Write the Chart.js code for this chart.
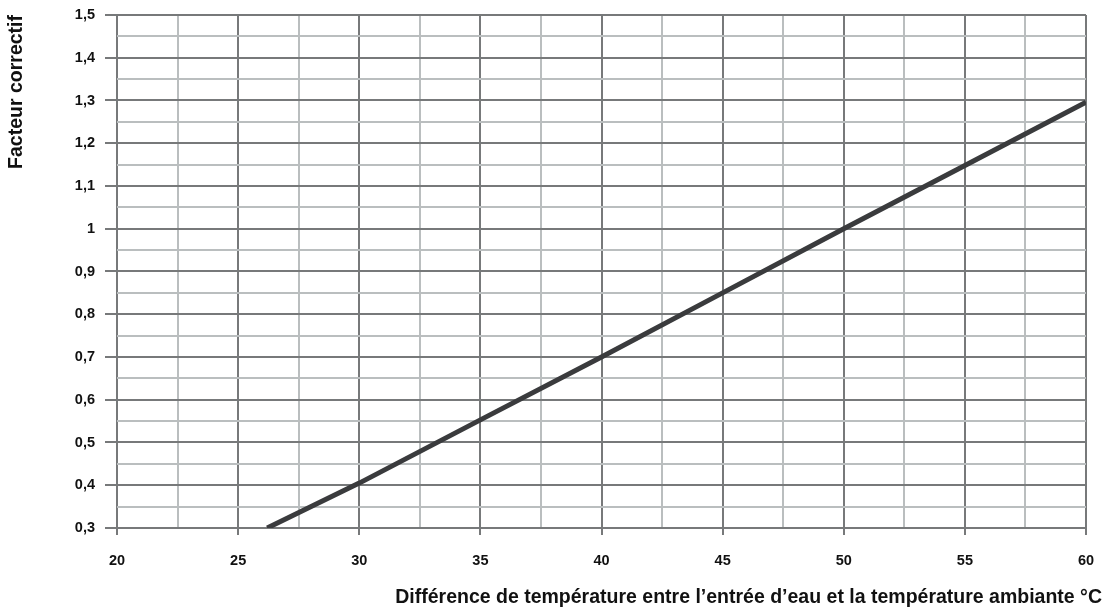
<!DOCTYPE html>
<html>
<head>
<meta charset="utf-8">
<script src="https://cdn.jsdelivr.net/npm/chart.js@4/dist/chart.umd.min.js"></script>
<style>
  html, body { margin: 0; padding: 0; background: #fff; }
  #wrap { width: 1107px; height: 612px; }
</style>
</head>
<body>
<div id="wrap"><canvas id="chart"></canvas></div>
<script>
'use strict';

// Data
let tempDiff = [26.2, 30, 35, 40, 45, 50, 55, 60];
let factor = [0.3, 0.405, 0.553, 0.70, 0.85, 1.0, 1.148, 1.296];

// Axes
let xTickValues = [20, 22.5, 25, 27.5, 30, 32.5, 35, 37.5, 40, 42.5, 45, 47.5, 50, 52.5, 55, 57.5, 60];
let xTickLabels = ['20', '', '25', '', '30', '', '35', '', '40', '', '45', '', '50', '', '55', '', '60'];
let yTickValues = [0.3, 0.35, 0.4, 0.45, 0.5, 0.55, 0.6, 0.65, 0.7, 0.75, 0.8, 0.85, 0.9, 0.95, 1.0, 1.05, 1.1, 1.15, 1.2, 1.25, 1.3, 1.35, 1.4, 1.45, 1.5];
let yTickLabels = ['0,3', '', '0,4', '', '0,5', '', '0,6', '', '0,7', '', '0,8', '', '0,9', '', '1', '', '1,1', '', '1,2', '', '1,3', '', '1,4', '', '1,5'];

let xTitle = 'Différence de température entre l’entrée d’eau et la température ambiante °C';
let yTitle = 'Facteur correctif';

const majorColor = '#77797a';
const minorColor = '#babebf';
const textColor = '#111';
const fontFamily = "'Liberation Sans', Arial, Helvetica, sans-serif";

function gridColor(labels) {
  return function (c) {
    return labels[c.index] ? majorColor : minorColor;
  };
}
function tickColor(labels) {
  return function (c) {
    return labels[c.index] ? majorColor : 'rgba(0,0,0,0)';
  };
}

// x title sits a bit past the right edge of the plot, so draw it here
const xTitlePlugin = {
  id: 'xTitle',
  afterDraw(chart) {
    const c = chart.ctx;
    c.save();
    c.font = 'bold 19.5px ' + fontFamily;
    c.fillStyle = textColor;
    c.textAlign = 'right';
    c.textBaseline = 'alphabetic';
    c.fillText(xTitle, 1102, 603);
    c.restore();
  }
};

const ctx = document.getElementById('chart').getContext('2d');

// eslint-disable-next-line no-unused-vars
const myChart = new Chart(ctx, {
  type: 'scatter',
  data: {
    datasets: [{
      data: tempDiff.map((x, i) => ({ x: x, y: factor[i] })),
      showLine: true,
      borderColor: '#3a3b3d',
      borderWidth: 5,
      pointRadius: 0,
      fill: false
    }]
  },
  options: {
    responsive: true,
    maintainAspectRatio: false,
    animation: false,
    layout: { padding: { top: 15, right: 21, left: 0, bottom: 0 } },
    plugins: {
      legend: { display: false },
      tooltip: { enabled: false }
    },
    scales: {
      x: {
        type: 'linear',
        min: 20,
        max: 60,
        afterBuildTicks: function (scale) {
          scale.ticks = xTickValues.map(v => ({ value: v }));
        },
        afterFit: function (scale) {
          scale.height = 84;
          scale.paddingLeft = 0;
          scale.paddingRight = 0;
        },
        border: { display: false },
        grid: {
          color: gridColor(xTickLabels),
          tickColor: tickColor(xTickLabels),
          lineWidth: 2,
          tickLength: 7
        },
        ticks: {
          autoSkip: false,
          maxRotation: 0,
          padding: 17,
          color: textColor,
          font: { family: fontFamily, size: 14.5, weight: 'bold' },
          callback: function (value, index) {
            return xTickLabels[index];
          }
        },
        title: { display: false }
      },
      y: {
        type: 'linear',
        min: 0.3,
        max: 1.5,
        afterBuildTicks: function (scale) {
          scale.ticks = yTickValues.map(v => ({ value: v }));
        },
        afterFit: function (scale) {
          scale.width = 117;
          scale.paddingTop = 0;
          scale.paddingBottom = 0;
        },
        border: { display: false },
        grid: {
          color: gridColor(yTickLabels),
          tickColor: tickColor(yTickLabels),
          lineWidth: 2,
          tickLength: 12
        },
        ticks: {
          autoSkip: false,
          padding: 10,
          color: textColor,
          font: { family: fontFamily, size: 14.5, weight: 'bold' },
          callback: function (value, index) {
            return yTickLabels[index];
          }
        },
        title: {
          display: true,
          text: yTitle,
          align: 'end',
          color: textColor,
          padding: { top: 5, bottom: 0 },
          font: { family: fontFamily, size: 19.5, weight: 'bold' }
        }
      }
    }
  },
  plugins: [xTitlePlugin]
});
</script>
</body>
</html>
